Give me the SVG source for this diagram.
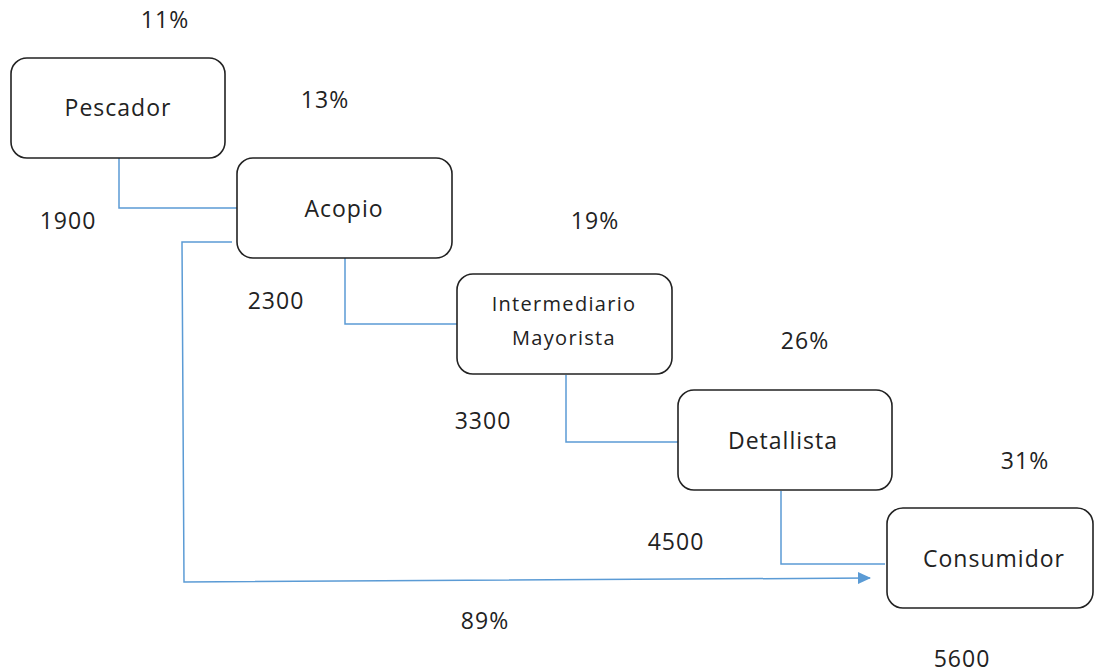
<svg xmlns="http://www.w3.org/2000/svg" width="1094" height="672" viewBox="0 0 1094 672">
<style>
.box{fill:#fff;stroke:#222;stroke-width:1.6}
.t{font-family:"Open Sans","Liberation Sans",sans-serif;font-size:23px;letter-spacing:1px;fill:#222;text-anchor:middle}
.s{font-size:20px;letter-spacing:1.3px}
.c{fill:none;stroke:#5b9bd5;stroke-width:1.5}
</style>
<defs>
<marker id="ah" markerWidth="14" markerHeight="14" refX="12" refY="7" orient="auto" markerUnits="userSpaceOnUse" viewBox="0 0 14 14">
<path d="M0,1 L13,7 L0,13 z" fill="#5b9bd5"/>
</marker>
</defs>
<rect width="1094" height="672" fill="#fff"/>
<g id="connectors">
<path class="c" d="M119,158 V208 H237"/>
<path class="c" d="M345,258 V324 H457"/>
<path class="c" d="M566,375 V442 H678"/>
<path class="c" d="M781,491 V564 H885"/>
<path class="c" d="M232,242 H182 L184,582 L870,578" marker-end="url(#ah)"/>
</g>
<g id="pescador"><rect class="box" x="11" y="58" width="214" height="100" rx="16"/><text class="t" x="118" y="116">Pescador</text></g>
<g id="acopio"><rect class="box" x="237" y="158" width="215" height="100" rx="16"/><text class="t" x="344" y="217">Acopio</text></g>
<g id="intermediario"><rect class="box" x="457" y="274" width="215" height="100" rx="16"/><text class="t s" x="564" y="311">Intermediario</text><text class="t s" x="564" y="345">Mayorista</text></g>
<g id="detallista"><rect class="box" x="678" y="390" width="214" height="100" rx="16"/><text class="t" x="783" y="449">Detallista</text></g>
<g id="consumidor"><rect class="box" x="887" y="508" width="206" height="100" rx="16"/><text class="t" x="994" y="567">Consumidor</text></g>
<g id="labels">
<text class="t" x="165" y="28">11%</text>
<text class="t" x="325" y="108">13%</text>
<text class="t" x="68" y="229">1900</text>
<text class="t" x="276" y="309">2300</text>
<text class="t" x="595" y="229">19%</text>
<text class="t" x="805" y="349">26%</text>
<text class="t" x="483" y="429">3300</text>
<text class="t" x="1025" y="469">31%</text>
<text class="t" x="676" y="550">4500</text>
<text class="t" x="485" y="629">89%</text>
<text class="t" x="962" y="667">5600</text>
</g>
</svg>
